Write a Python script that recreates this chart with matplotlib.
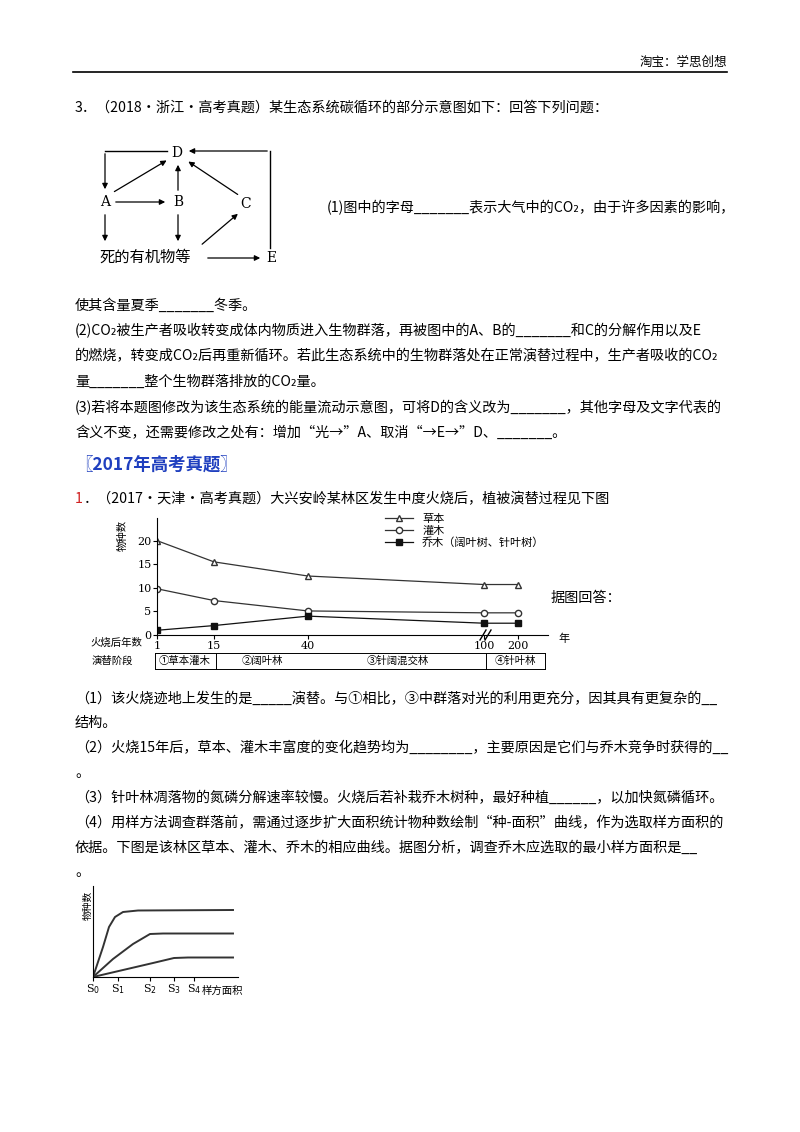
import numpy as np
import matplotlib
matplotlib.use("Agg")
import matplotlib.pyplot as plt

plt.rcParams['font.family'] = ['Noto Sans CJK SC', 'DejaVu Sans']

years = [1, 15, 40, 100, 200]
year_labels = ['1', '15', '40', '100', '200']
herb = [20, 15.5, 12.5, 10.7, 10.7]
shrub = [9.8, 7.3, 5.1, 4.7, 4.7]
tree = [1.0, 2.0, 4.0, 2.5, 2.5]
series_names = ['草本', '灌木', '乔木（阔叶树、针叶树）']
stages = ['①草本灌木', '②阔叶林', '③针阔混交林', '④针叶林']

s_labels = ['S$_0$', 'S$_1$', 'S$_2$', 'S$_3$', 'S$_4$']
s_vals = [0, 25, 57, 81, 101]
curve_x = [0, 10, 16, 22, 30, 45, 140]
curve_top = [0, 30, 50, 60, 65, 66.5, 67]
curve_mid_x = [0, 20, 40, 57, 70, 140]
curve_mid = [0, 18, 33, 43, 43.5, 43.5]
curve_bot_x = [0, 30, 60, 81, 95, 140]
curve_bot = [0, 7, 14, 19, 19.5, 19.5]

W, H = 800, 1132
fig = plt.figure(figsize=(8, 11.32), dpi=100)
fs = 10.2

def T(x, y, s, **kw):
    kw.setdefault('fontsize', fs)
    kw.setdefault('va', 'center')
    fig.text(x / W, 1 - y / H, s, **kw)

def L(x1, y1, x2, y2, lw=1.0, **kw):
    fig.add_artist(plt.Line2D([x1 / W, x2 / W], [1 - y1 / H, 1 - y2 / H], color='black', lw=lw, **kw))

def A(x1, y1, x2, y2):
    fig.add_artist(matplotlib.patches.FancyArrowPatch((x1 / W, 1 - y1 / H), (x2 / W, 1 - y2 / H),
                   transform=fig.transFigure, arrowstyle='-|>', mutation_scale=8, lw=0.9, color='black'))

# header
T(727, 62, '淘宝：学思创想', ha='right', fontsize=9)
L(73, 72, 727, 72, lw=1.2)

T(75, 108, '3．（2018·浙江·高考真题）某生态系统碳循环的部分示意图如下：回答下列问题：')

# carbon cycle diagram
T(177, 153, 'D', ha='center', fontsize=10, family='DejaVu Serif')
T(105, 202, 'A', ha='center', fontsize=10, family='DejaVu Serif')
T(178, 202, 'B', ha='center', fontsize=10, family='DejaVu Serif')
T(246, 204, 'C', ha='center', fontsize=10, family='DejaVu Serif')
T(145, 257, '死的有机物等', ha='center', fontsize=11)
T(271, 258, 'E', ha='center', fontsize=10, family='DejaVu Serif')
L(167, 151, 105, 151); A(105, 151, 105, 192)
A(113, 202, 168, 202)
A(112, 193, 169, 159)
A(178, 193, 178, 162)
A(105, 212, 105, 244)
A(178, 212, 178, 244)
A(200, 246, 240, 212)
A(240, 196, 186, 160)
A(205, 258, 263, 258)
L(270, 248, 270, 151); A(270, 151, 186, 151)

T(327, 208, '(1)图中的字母_______表示大气中的CO₂，由于许多因素的影响，')
T(75, 306, '使其含量夏季_______冬季。')
T(75, 331, '(2)CO₂被生产者吸收转变成体内物质进入生物群落，再被图中的A、B的_______和C的分解作用以及E')
T(75, 356, '的燃烧，转变成CO₂后再重新循环。若此生态系统中的生物群落处在正常演替过程中，生产者吸收的CO₂')
T(75, 382, '量_______整个生物群落排放的CO₂量。')
T(75, 408, '(3)若将本题图修改为该生态系统的能量流动示意图，可将D的含义改为_______，其他字母及文字代表的')
T(75, 433, '含义不变，还需要修改之处有：增加“光→”A、取消“→E→”D、_______。')
T(75, 465, '〖2017年高考真题〗', color='#1f3fbf', fontsize=12.5, fontweight='bold')
T(75, 499, '1', color='#d02020')
T(84, 499, '．（2017·天津·高考真题）大兴安岭某林区发生中度火烧后，植被演替过程见下图')
T(551, 598, '据图回答：')

# line chart
ax_l, ax_r, ax_t, ax_b = 157, 548, 518, 635
ax = fig.add_axes([ax_l / W, 1 - ax_b / H, (ax_r - ax_l) / W, (ax_b - ax_t) / H])
fx = [1, 15, 40, 100, 200, 260]
px = [0, 57, 151, 327, 361, 391]
ax.set_xscale('function', functions=(lambda v: np.interp(v, fx, px), lambda v: np.interp(v, px, fx)))
ax.set_xlim(1, 260)
ax.set_ylim(0, 24.8)
ax.plot(years, herb, '-^', color='#333', lw=0.9, ms=5, mfc='white', mec='#333', label=series_names[0])
ax.plot(years, shrub, '-o', color='#333', lw=0.9, ms=4.5, mfc='white', mec='#333', label=series_names[1])
ax.plot(years, tree, '-s', color='#111', lw=0.9, ms=4.5, mfc='#111', label=series_names[2])
for s in ['top', 'right']:
    ax.spines[s].set_visible(False)
ax.set_xticks(years)
ax.set_xticklabels(year_labels, fontsize=8, family='DejaVu Serif')
ax.set_yticks([0, 5, 10, 15, 20])
ax.set_yticklabels(['0', '5', '10', '15', '20'], fontsize=8, family='DejaVu Serif')
ax.tick_params(length=3, pad=1)
ax.set_facecolor('none')
ax.legend(loc='upper left', bbox_to_anchor=(0.57, 1.08), frameon=False, fontsize=8,
          handlelength=2.5, labelspacing=0.15, borderpad=0)
ax.set_ylabel('物种数', fontsize=7.5, labelpad=2)
ax.yaxis.set_label_coords(-0.075, 0.85)
T(558, 639, '年', fontsize=8)
T(90, 643, '火烧后年数', fontsize=7.5)
T(92, 661, '演替阶段', fontsize=7.5)
L(480, 640, 486, 630); L(485, 640, 491, 630)
L(155, 653, 545, 653, lw=0.7); L(155, 669, 545, 669, lw=0.7)
L(155, 653, 155, 669, lw=0.7); L(545, 653, 545, 669, lw=0.7)
L(216, 653, 216, 669, lw=0.7); L(486, 653, 486, 669, lw=0.7)
T(185, 661, stages[0], ha='center', fontsize=7.5)
T(262, 661, stages[1], ha='center', fontsize=7.5)
T(398, 661, stages[2], ha='center', fontsize=7.5)
T(515, 661, stages[3], ha='center', fontsize=7.5)

T(75, 699, '（1）该火烧迹地上发生的是_____演替。与①相比，③中群落对光的利用更充分，因其具有更复杂的__')
T(75, 723, '结构。')
T(75, 748, '（2）火烧15年后，草本、灌木丰富度的变化趋势均为________，主要原因是它们与乔木竞争时获得的__')
T(75, 773, '。')
T(75, 798, '（3）针叶林凋落物的氮磷分解速率较慢。火烧后若补栽乔木树种，最好种植______，以加快氮磷循环。')
T(75, 823, '（4）用样方法调查群落前，需通过逐步扩大面积统计物种数绘制“种-面积”曲线，作为选取样方面积的')
T(75, 848, '依据。下图是该林区草本、灌木、乔木的相应曲线。据图分析，调查乔木应选取的最小样方面积是__')
T(75, 872, '。')

# species-area chart
b_l, b_r, b_t, b_b = 93, 238, 886, 977
bx = fig.add_axes([b_l / W, 1 - b_b / H, (b_r - b_l) / W, (b_b - b_t) / H])
bx.plot(curve_x, curve_top, color='#333', lw=1.4)
bx.plot(curve_mid_x, curve_mid, color='#333', lw=1.4)
bx.plot(curve_bot_x, curve_bot, color='#333', lw=1.4)
bx.set_xlim(0, 145)
bx.set_ylim(0, 91)
for s in ['top', 'right']:
    bx.spines[s].set_visible(False)
bx.set_xticks(s_vals)
bx.set_xticklabels(s_labels, fontsize=8, family='DejaVu Serif')
bx.set_yticks([])
bx.tick_params(length=3, pad=1)
bx.set_facecolor('none')
T(88, 905, '物种数', fontsize=7, rotation=90, ha='center')
T(202, 991, '样方面积', fontsize=7.5)

fig.savefig('out.png', dpi=100)
